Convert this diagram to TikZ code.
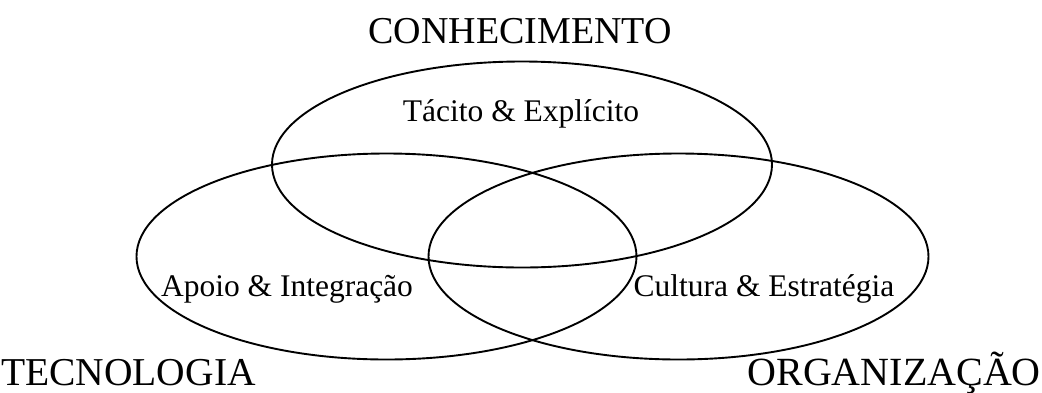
\documentclass[tikz,border=0pt]{standalone}
\usepackage{fontspec}
\setmainfont{Liberation Serif}
\usetikzlibrary{shapes.geometric}
\begin{document}
\begin{tikzpicture}[x=1pt,y=-1pt,
  venn/.style={draw=black,line width=1.9pt,ellipse,inner sep=0pt,minimum width=500pt,minimum height=206pt},
  biglabel/.style={inner sep=0pt},
  smalllabel/.style={font=\fontsize{31.5}{36}\selectfont,inner sep=0pt,anchor=base}]
\useasboundingbox (0,0) rectangle (1042,392);
\node[venn] (conh) at (522,164.5) {};
\node[venn] (tecn) at (386.5,256.5) {};
\node[venn] (orga) at (678.5,256.5) {};
\node[smalllabel] (t1) at (521,121) {Tácito \& Explícito};
\node[smalllabel] (t2) at (287,296) {Apoio \& Integração};
\node[smalllabel] (t3) at (764,296) {Cultura \& Estratégia};
\node[biglabel,anchor=base,font=\fontsize{38}{42}\selectfont] (l1) at (520,43) {CONHECIMENTO};
\node[biglabel,anchor=base west,font=\fontsize{39.5}{44}\selectfont] (l2) at (1,385) {TECNOLOGIA};
\node[biglabel,anchor=base east,font=\fontsize{40}{44}\selectfont] (l3) at (1041,385) {ORGANIZAÇÃO};
\end{tikzpicture}
\end{document}
